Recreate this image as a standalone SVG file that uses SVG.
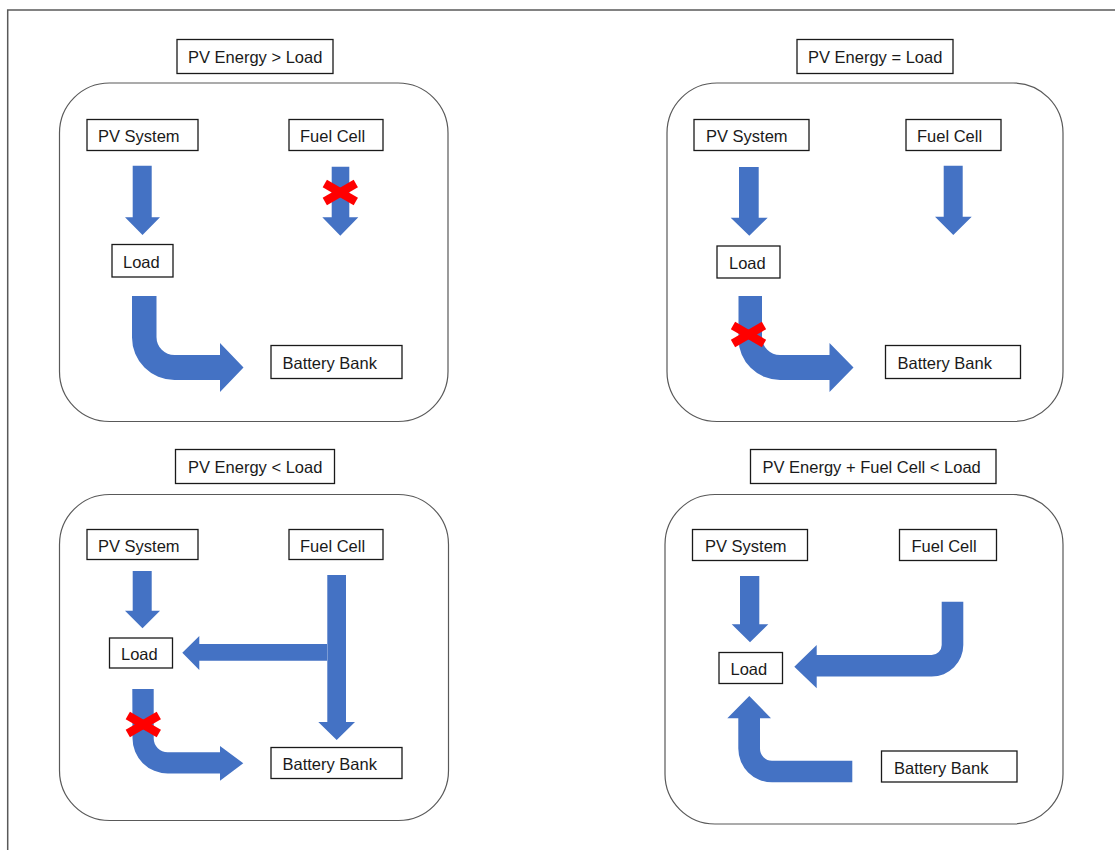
<svg xmlns="http://www.w3.org/2000/svg" width="1115" height="850" viewBox="0 0 1115 850">
<style>
.panel{fill:#fff;stroke:#595959;stroke-width:1.2}
.box{fill:#fff;stroke:#1a1a1a;stroke-width:1.3}
.lbl{font-family:"Liberation Sans",Arial,sans-serif;font-size:16.5px;fill:#1a1a1a}
.arr{fill:#4472C4}
.x{stroke:#FF0000;stroke-width:8.5;stroke-linecap:butt}
</style>
<rect width="1115" height="850" fill="#fff"/>
<path d="M7.7,850 V10 H1115" fill="none" stroke="#595959" stroke-width="1.5"/>

<!-- Panel 1 -->
<g id="title1"><rect class="box" x="177" y="39.5" width="156" height="34"/><text class="lbl" x="188" y="63">PV Energy &gt; Load</text></g>
<g id="panel1"><rect class="panel" x="59.5" y="83" width="388.5" height="338.5" rx="50" ry="50"/></g>
<g id="pv1"><rect class="box" x="87" y="119.5" width="111" height="31"/><text class="lbl" x="98" y="142">PV System</text></g>
<g id="fc1"><rect class="box" x="289" y="119.5" width="94" height="31"/><text class="lbl" x="300" y="142">Fuel Cell</text></g>
<g id="load1"><rect class="box" x="112" y="244.5" width="61" height="32.5"/><text class="lbl" x="123" y="267.5">Load</text></g>
<g id="bat1"><rect class="box" x="271" y="345.5" width="131" height="33"/><text class="lbl" x="282.5" y="369">Battery Bank</text></g>

<!-- Panel 2 -->
<g id="title2"><rect class="box" x="797" y="39.5" width="156" height="34"/><text class="lbl" x="808" y="63">PV Energy = Load</text></g>
<g id="panel2"><rect class="panel" x="667" y="83" width="396" height="338.5" rx="50" ry="50"/></g>
<g id="pv2"><rect class="box" x="694" y="119.5" width="115" height="31"/><text class="lbl" x="706" y="142">PV System</text></g>
<g id="fc2"><rect class="box" x="906" y="119.5" width="95" height="31"/><text class="lbl" x="917" y="142">Fuel Cell</text></g>
<g id="load2"><rect class="box" x="717" y="246" width="63" height="32"/><text class="lbl" x="729" y="269">Load</text></g>
<g id="bat2"><rect class="box" x="885.5" y="345.5" width="135" height="33"/><text class="lbl" x="897.5" y="369">Battery Bank</text></g>

<!-- Panel 3 -->
<g id="title3"><rect class="box" x="175.5" y="449.5" width="159" height="34"/><text class="lbl" x="188" y="473">PV Energy &lt; Load</text></g>
<g id="panel3"><rect class="panel" x="59.5" y="494.5" width="389" height="326" rx="50" ry="50"/></g>
<g id="pv3"><rect class="box" x="87" y="529.5" width="111" height="30"/><text class="lbl" x="98" y="551.5">PV System</text></g>
<g id="fc3"><rect class="box" x="289" y="529.5" width="94" height="30"/><text class="lbl" x="300" y="551.5">Fuel Cell</text></g>
<g id="load3"><rect class="box" x="109.5" y="638" width="63" height="30"/><text class="lbl" x="121" y="660">Load</text></g>
<g id="bat3"><rect class="box" x="271" y="747.5" width="131" height="31"/><text class="lbl" x="282.5" y="770">Battery Bank</text></g>

<!-- Panel 4 -->
<g id="title4"><rect class="box" x="750.5" y="449.5" width="245.5" height="34"/><text class="lbl" x="762.5" y="473">PV Energy + Fuel Cell &lt; Load</text></g>
<g id="panel4"><rect class="panel" x="665" y="494.5" width="398" height="329.5" rx="50" ry="50"/></g>
<g id="pv4"><rect class="box" x="692.5" y="529.5" width="115" height="31"/><text class="lbl" x="705" y="552">PV System</text></g>
<g id="fc4"><rect class="box" x="899.5" y="529.5" width="97" height="31"/><text class="lbl" x="911.5" y="552">Fuel Cell</text></g>
<g id="load4"><rect class="box" x="719" y="652.5" width="63.5" height="31"/><text class="lbl" x="730.5" y="675">Load</text></g>
<g id="bat4"><rect class="box" x="881.5" y="751" width="135.5" height="31"/><text class="lbl" x="894" y="773.5">Battery Bank</text></g>

<g id="connectors">
<!-- Panel 1 -->
<polygon class="arr" points="132.7,165.7 151.7,165.7 151.7,217.3 160,217.3 142.5,235 125,217.3 132.7,217.3"/>
<polygon class="arr" points="331.7,166.7 349.3,166.7 349.3,217.3 358.3,217.3 340.3,235.7 322.3,217.3 331.7,217.3"/>
<path class="arr" d="M132,296 H156.5 V337 A18,18 0 0 0 174.5,355 H220 V343 L243.5,367.5 L220,392 V380 H174.5 A42.5,42.5 0 0 1 132,337.5 Z"/>
<!-- Panel 2 -->
<polygon class="arr" points="739,167 758.7,167 758.7,217.7 767.7,217.7 749.3,235.7 730.7,217.7 739,217.7"/>
<polygon class="arr" points="943.7,165.7 962.7,165.7 962.7,216.7 971.7,216.7 953.3,235 935,216.7 943.7,216.7"/>
<path class="arr" d="M738.5,296 H762 V337 A18,18 0 0 0 780,355 H829.5 V343 L853.5,367.5 L829.5,392 V380 H780 A41.5,41.5 0 0 1 738.5,338.5 Z"/>
<!-- Panel 3 -->
<polygon class="arr" points="132.7,571 151.7,571 151.7,610.7 160,610.7 142.5,628.3 125,610.7 132.7,610.7"/>
<polygon class="arr" points="327.3,575 346,575 346,722 355,722 336.7,740 318.3,722 327.3,722"/>
<polygon class="arr" points="327,644 327,660.7 199.3,660.7 199.3,670 182.3,652.7 199.3,636 199.3,644"/>
<path class="arr" d="M132.3,689 H153.7 V738.3 A14,14 0 0 0 167.7,752.3 H220 V746 L243.3,763.3 L220,780.7 V773.5 H167.7 A35.2,35.2 0 0 1 132.5,738.3 Z"/>
<!-- Panel 4 -->
<polygon class="arr" points="740,576 759.3,576 759.3,624.3 768.3,624.3 750,642.3 731.7,624.3 740,624.3"/>
<path class="arr" d="M941.7,601.7 H963.3 V645 A31.6,31.6 0 0 1 931.7,676.6 H816.7 V688.3 L794.3,666.7 L816.7,645 V655 H931.7 A10,10 0 0 0 941.7,645 Z"/>
<path class="arr" d="M852.3,760.7 V782.3 H772 A33.7,33.7 0 0 1 738.3,748.6 V718.3 H727.3 L749.3,696 L771,718.3 H760 V748.7 A12,12 0 0 0 772,760.7 Z"/>
</g>

<g id="blocked">
<g class="x"><line x1="324.8" y1="183.5" x2="355.8" y2="201.5"/><line x1="324.8" y1="201.5" x2="355.8" y2="183.5"/></g>
<g class="x"><line x1="733" y1="325.5" x2="764" y2="343.5"/><line x1="733" y1="343.5" x2="764" y2="325.5"/></g>
<g class="x"><line x1="127.8" y1="715.5" x2="158.8" y2="733.5"/><line x1="127.8" y1="733.5" x2="158.8" y2="715.5"/></g>
</g>
</svg>
